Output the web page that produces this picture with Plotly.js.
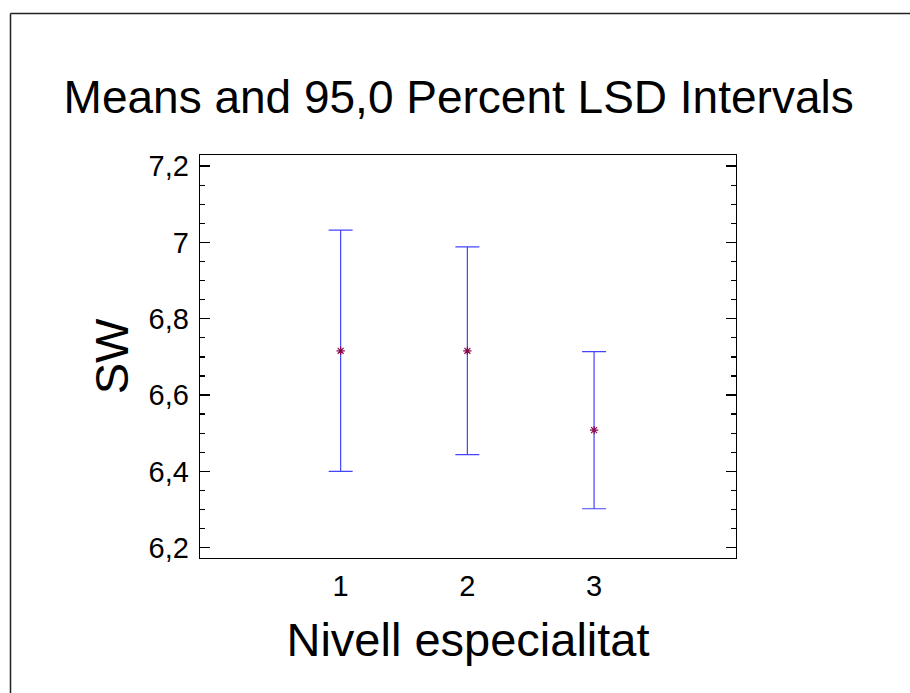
<!DOCTYPE html>
<html>
<head>
<meta charset="utf-8">
<script src="https://cdn.plot.ly/plotly-3.0.1.min.js"></script>
<style>html,body{margin:0;padding:0;background:#fff;}#chart{width:910px;height:693px;}</style>
</head>
<body>
<div id="chart"></div>
<script>
// Data
const levels = [1, 2, 3];
const means = [6.716, 6.716, 6.508];
const halfWidths = [0.316, 0.272, 0.206];
const yTickVals = [6.2, 6.4, 6.6, 6.8, 7.0, 7.2];
const xTickVals = [1, 2, 3];

const L = 200, R = 174, T = 155, B = 135;
const W = 910, H = 693;
const pw = W - L - R, ph = H - T - B;
const px = v => (v - L) / pw;
const py = v => (H - B - v) / ph;

const trace = {
  x: levels,
  y: means,
  type: 'scatter',
  mode: 'markers',
  marker: {symbol: 'asterisk-open', size: 7, color: '#8b0a50', line: {color: '#8b0a50', width: 1.2}},
  error_y: {type: 'data', array: halfWidths, visible: true, color: '#4444ff', thickness: 1.2, width: 12},
  showlegend: false,
  hoverinfo: 'skip'
};

const layout = {
  width: W, height: H,
  margin: {l: L, r: R, t: T, b: B},
  paper_bgcolor: '#ffffff',
  plot_bgcolor: '#ffffff',
  separators: ',.',
  font: {family: 'Liberation Sans, Arial, sans-serif', color: '#000'},
  title: {text: 'Means and 95,0 Percent LSD Intervals', font: {size: 46, color: '#000'},
          xref: 'container', x: 0.504, xanchor: 'center', yref: 'container', y: 1 - 97/693, yanchor: 'middle'},
  xaxis: {
    range: [-0.11, 4.12],
    tickvals: xTickVals,
    ticks: '',
    showgrid: false, zeroline: false,
    showline: true, linecolor: '#000', linewidth: 1.3, mirror: true,
    tickfont: {size: 29},
    ticklabelstandoff: 2,
    title: {text: 'Nivell especialitat', font: {size: 47}, standoff: 22}
  },
  yaxis: {
    range: [6.173, 7.229],
    tickvals: yTickVals,
    ticks: 'inside', ticklen: 10, tickwidth: 1.3, tickcolor: '#000',
    minor: {ticks: 'inside', ticklen: 5, dtick: 0.05, tickwidth: 1.3, tickcolor: '#000', showgrid: false},
    showgrid: false, zeroline: false,
    showline: true, linecolor: '#000', linewidth: 1.3, mirror: 'ticks',
    tickfont: {size: 29},
    ticklabelstandoff: 4,
    title: {text: 'SW', font: {size: 47}, standoff: 5}
  },
  shapes: [
    {type: 'line', xref: 'paper', yref: 'paper', x0: px(10.5), x1: px(10.5), y0: py(13.5), y1: py(710), line: {color: '#222', width: 1.5}},
    {type: 'line', xref: 'paper', yref: 'paper', x0: px(10.5), x1: px(930), y0: py(13.5), y1: py(13.5), line: {color: '#222', width: 1.5}}
  ]
};

Plotly.newPlot('chart', [trace], layout, {displayModeBar: false, staticPlot: true});
</script>
</body>
</html>
